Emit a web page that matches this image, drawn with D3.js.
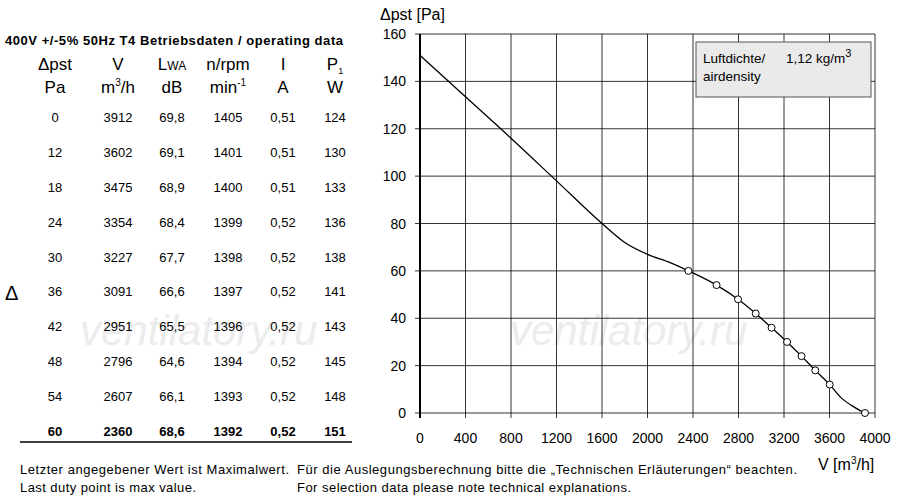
<!DOCTYPE html>
<html>
<head>
<meta charset="utf-8">
<script src="https://d3js.org/d3.v7.min.js"></script>
<style>
  body { margin: 0; background: #fff; font-family: "Liberation Sans", Arial, sans-serif; }
  svg text { fill: #000; }
</style>
</head>
<body>
<svg width="900" height="500"></svg>
<script>
// table data
const dpst = [0, 12, 18, 24, 30, 36, 42, 48, 54, 60];
const flow = [3912, 3602, 3475, 3354, 3227, 3091, 2951, 2796, 2607, 2360];
const lwa = ["69,8", "69,1", "68,9", "68,4", "67,7", "66,6", "65,5", "64,6", "66,1", "68,6"];
const rpm = [1405, 1401, 1400, 1399, 1398, 1397, 1396, 1394, 1393, 1392];
const amps = ["0,51", "0,51", "0,51", "0,52", "0,52", "0,52", "0,52", "0,52", "0,52", "0,52"];
const power = [124, 130, 133, 136, 138, 141, 143, 145, 148, 151];

// curve beyond the duty points
const curveV = [0, 400, 800, 1200, 1600, 1800, 2000, 2200, 2360];
const curveP = [151, 133.5, 116, 98, 80, 72, 67, 63.5, 60];
const tailV = [3700, 3800, 3870];
const tailP = [6.5, 3, 1];

const xTicks = d3.range(0, 4001, 400);
const yTicks = d3.range(0, 161, 20);

const svg = d3.select("svg");
const x = d3.scaleLinear().domain([0, 4000]).range([420, 875]);
const y = d3.scaleLinear().domain([0, 160]).range([413, 34]);

// watermark
svg.append("g").selectAll("text").data([[80, 345], [510, 345]]).join("text")
  .attr("x", d => d[0]).attr("y", d => d[1])
  .attr("font-size", 42).attr("font-style", "italic")
  .style("fill", "#ececec").text("ventilatory.ru");

// grid
const g = svg.append("g");
g.selectAll(".vx").data(xTicks).join("line")
  .attr("x1", d => x(d)).attr("x2", d => x(d)).attr("y1", y(160)).attr("y2", y(0) + 5)
  .attr("stroke", "#000").attr("stroke-width", d => d === 0 ? 2 : 0.8);
g.selectAll(".hy").data(yTicks).join("line")
  .attr("x1", x(0) - 5).attr("x2", x(4000)).attr("y1", d => y(d)).attr("y2", d => y(d))
  .attr("stroke", "#000").attr("stroke-width", 0.8);
g.selectAll(".xl").data(xTicks).join("text")
  .attr("x", d => x(d)).attr("y", 443).attr("text-anchor", "middle")
  .attr("font-size", 14).text(d => d);
g.selectAll(".yl").data(yTicks).join("text")
  .attr("x", 406).attr("y", d => y(d) + 5).attr("text-anchor", "end")
  .attr("font-size", 14).text(d => d);

svg.append("text").attr("x", 380).attr("y", 20).attr("font-size", 16).text("Δpst [Pa]");
const vt = svg.append("text").attr("x", 818).attr("y", 470).attr("font-size", 16);
vt.append("tspan").text("V [m");
vt.append("tspan").attr("font-size", 10).attr("dy", -6).text("3");
vt.append("tspan").attr("dy", 6).text("/h]");

// air density box
svg.append("rect").attr("x", 696).attr("y", 42).attr("width", 175).attr("height", 55)
  .attr("fill", "#eaeaea").attr("stroke", "#555");
svg.append("text").attr("x", 703).attr("y", 63).attr("font-size", 13.5).text("Luftdichte/");
const ld = svg.append("text").attr("x", 786).attr("y", 63).attr("font-size", 13.5);
ld.append("tspan").text("1,12 kg/m");
ld.append("tspan").attr("font-size", 11).attr("dy", -6).text("3");
svg.append("text").attr("x", 703).attr("y", 81).attr("font-size", 13.5).text("airdensity");

// curve
const pts = curveV.map((v, i) => [v, curveP[i]])
  .concat(flow.slice().reverse().slice(1).map((v, i) => [v, dpst.slice().reverse()[i + 1]]).filter(p => p[0] < 3700))
  .concat(tailV.map((v, i) => [v, tailP[i]]))
  .concat([[flow[0], dpst[0]]]);
svg.append("path").datum(pts)
  .attr("d", d3.line().x(d => x(d[0])).y(d => y(d[1])).curve(d3.curveMonotoneX))
  .attr("fill", "none").attr("stroke", "#000").attr("stroke-width", 1.3);
svg.selectAll(".pt").data(flow).join("circle")
  .attr("cx", d => x(d)).attr("cy", (d, i) => y(dpst[i])).attr("r", 3.5)
  .attr("fill", "#fff").attr("stroke", "#000");

// table
svg.append("text").attr("x", 5).attr("y", 45).attr("font-size", 13).attr("font-weight", "bold")
  .attr("textLength", 338).text("400V +/-5% 50Hz T4 Betriebsdaten / operating data");
const cols = [55, 118, 172, 228, 283, 335];
const h1 = ["Δpst", "V", "LWA", "n/rpm", "I", "P"];
h1.forEach((t, i) => {
  const tx = svg.append("text").attr("x", cols[i]).attr("y", 70).attr("text-anchor", "middle").attr("font-size", 17);
  if (t === "LWA") { tx.append("tspan").text("L"); tx.append("tspan").attr("font-size", 12).text("WA"); }
  else if (t === "P") { tx.append("tspan").text("P"); tx.append("tspan").attr("font-size", 9).attr("dy", 4).text("1"); }
  else tx.text(t);
});
const h2 = svg.append("g");
[["Pa"], ["m", "3", "/h"], ["dB"], ["min", "-1", ""], ["A"], ["W"]].forEach((p, i) => {
  const tx = h2.append("text").attr("x", cols[i]).attr("y", 93).attr("text-anchor", "middle").attr("font-size", 17);
  tx.append("tspan").text(p[0]);
  if (p.length > 1) {
    tx.append("tspan").attr("font-size", 10).attr("dy", -7).text(p[1]);
    tx.append("tspan").attr("dy", 7).text(p[2]);
  }
});
const rows = dpst.map((d, i) => [d, flow[i], lwa[i], rpm[i], amps[i], power[i]]);
const rowY = d3.scaleLinear().domain([0, 9]).range([122, 436]);
rows.forEach((r, i) => {
  svg.append("g").selectAll("text").data(r).join("text")
    .attr("x", (d, j) => cols[j]).attr("y", rowY(i)).attr("text-anchor", "middle")
    .attr("font-size", 13).attr("font-weight", i === 9 ? "bold" : "normal").text(d => d);
});
svg.append("line").attr("x1", 20).attr("x2", 352).attr("y1", 442).attr("y2", 442)
  .attr("stroke", "#000").attr("stroke-width", 1.5);
svg.append("text").attr("x", 5).attr("y", 300).attr("font-size", 20).text("Δ");

// footnotes
const foot = [["Letzter angegebener Wert ist Maximalwert.", 20, 474, 269], ["Last duty point is max value.", 20, 492, 176],
  ["Für die Auslegungsberechnung bitte die „Technischen Erläuterungen“ beachten.", 297, 474, 500],
  ["For selection data please note technical explanations.", 297, 492, 334]];
svg.selectAll(".ft").data(foot).join("text")
  .attr("x", d => d[1]).attr("y", d => d[2]).attr("font-size", 13)
  .attr("textLength", d => d[3]).text(d => d[0]);
</script>
</body>
</html>
